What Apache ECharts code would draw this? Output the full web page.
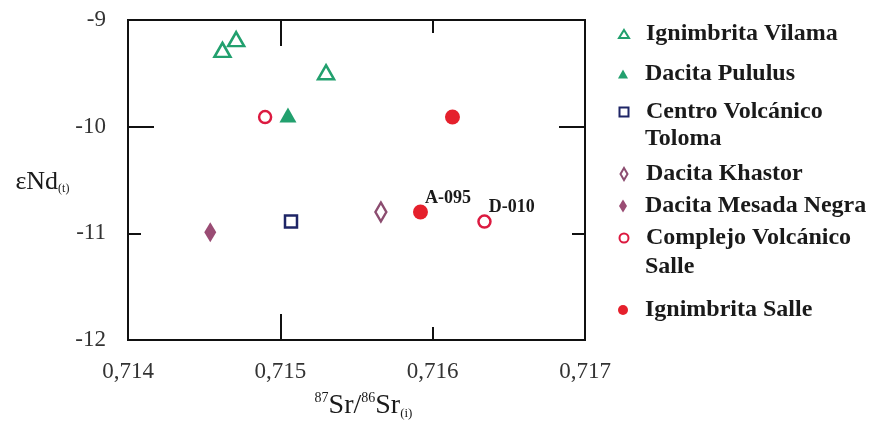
<!DOCTYPE html>
<html>
<head>
<meta charset="utf-8">
<script src="https://cdn.jsdelivr.net/npm/echarts@6/dist/echarts.min.js"></script>
<style>
  html, body { margin: 0; padding: 0; background: #fff; }
  #chart { width: 871px; height: 426px; }
</style>
</head>
<body>
<div id="chart"></div>
<script>
// 87Sr/86Sr(i) vs εNd(t) by volcanic unit
const seriesNames = [
  'Ignimbrita Vilama',
  'Dacita Pululus',
  'Centro Volcánico Toloma',
  'Dacita Khastor',
  'Dacita Mesada Negra',
  'Complejo Volcánico Salle',
  'Ignimbrita Salle'
];

const vilamaSr = [0.71462, 0.71471, 0.71530];
const vilamaNd = [-9.28, -9.18, -9.49];
const pululusSr = [0.71505];
const pululusNd = [-9.89];
const tolomaSr = [0.71507];
const tolomaNd = [-10.89];
const khastorSr = [0.71566];
const khastorNd = [-10.80];
const mesadaSr = [0.71454];
const mesadaNd = [-10.99];
const complejoSr = [0.71490, 0.71634];
const complejoNd = [-9.91, -10.89];
const ignSalleSr = [0.71613, 0.71592];
const ignSalleNd = [-9.91, -10.80];

// sample names written next to individual points
const complejoSamples = [null, 'D-010'];
const ignSalleSamples = [null, 'A-095'];

const xTicks = [0.714, 0.715, 0.716, 0.717];
const yTicks = [-12, -11, -10, -9];

// legend text, one entry per printed line
const legendLines = {
  'Ignimbrita Vilama': ['Ignimbrita Vilama'],
  'Dacita Pululus': ['Dacita Pululus'],
  'Centro Volcánico Toloma': ['Centro Volcánico', 'Toloma'],
  'Dacita Khastor': ['Dacita Khastor'],
  'Dacita Mesada Negra': ['Dacita Mesada Negra'],
  'Complejo Volcánico Salle': ['Complejo Volcánico', 'Salle'],
  'Ignimbrita Salle': ['Ignimbrita Salle']
};

const SERIF = '"Liberation Serif", "DejaVu Serif", serif';

function pairs(xs, ys, samples) {
  return xs.map((x, i) => {
    const item = { value: [x, ys[i]] };
    if (samples && samples[i]) {
      item.label = {
        show: true,
        formatter: samples[i],
        position: 'right',
        distance: 0,
        offset: [-3, -14],
        fontFamily: SERIF,
        fontWeight: 'bold',
        fontSize: 18,
        color: '#1a1a1a'
      };
    }
    return item;
  });
}

const styles = {
  'Ignimbrita Vilama':       { symbol: 'triangle', size: [16, 14], icon: [10, 8],  hollow: true,  color: '#22a06e' },
  'Dacita Pululus':          { symbol: 'triangle', size: [17, 15], icon: [10, 9],  hollow: false, color: '#22a06e' },
  'Centro Volcánico Toloma': { symbol: 'rect',     size: 12,       icon: [9, 9],   hollow: true,  color: '#1e2566' },
  'Dacita Khastor':          { symbol: 'diamond',  size: [11, 19], icon: [7, 12],  hollow: true,  color: '#8c4d70' },
  'Dacita Mesada Negra':     { symbol: 'diamond',  size: [12, 20], icon: [8, 13],  hollow: false, color: '#9a4c74' },
  'Complejo Volcánico Salle':{ symbol: 'circle',   size: 12,       icon: [9, 9],   hollow: true,  color: '#dc1a40' },
  'Ignimbrita Salle':        { symbol: 'circle',   size: 15,       icon: [10, 10], hollow: false, color: '#e5202c' }
};

const seriesData = {
  'Ignimbrita Vilama': pairs(vilamaSr, vilamaNd),
  'Dacita Pululus': pairs(pululusSr, pululusNd),
  'Centro Volcánico Toloma': pairs(tolomaSr, tolomaNd),
  'Dacita Khastor': pairs(khastorSr, khastorNd),
  'Dacita Mesada Negra': pairs(mesadaSr, mesadaNd),
  'Complejo Volcánico Salle': pairs(complejoSr, complejoNd, complejoSamples),
  'Ignimbrita Salle': pairs(ignSalleSr, ignSalleNd, ignSalleSamples)
};

// vertical centre of each legend line (first line carries the marker)
const legendLineCenters = {
  'Ignimbrita Vilama': [34],
  'Dacita Pululus': [74],
  'Centro Volcánico Toloma': [112, 139],
  'Dacita Khastor': [174],
  'Dacita Mesada Negra': [206],
  'Complejo Volcánico Salle': [238, 267],
  'Ignimbrita Salle': [310]
};
const LEGEND_LH = 28;
const ICON_CX = 623;
const TEXT_X = 645;

const series = seriesNames.map(name => {
  const s = styles[name];
  return {
    name,
    type: 'scatter',
    xAxisIndex: 0,
    yAxisIndex: 0,
    symbol: s.symbol,
    symbolSize: s.size,
    itemStyle: s.hollow
      ? { color: '#ffffff', borderColor: s.color, borderWidth: 2.5, opacity: 1 }
      : { color: s.color, borderWidth: 0, opacity: 1 },
    emphasis: { disabled: true },
    data: seriesData[name]
  };
});

const legends = [];
seriesNames.forEach(name => {
  const s = styles[name];
  const lines = legendLines[name];
  lines.forEach((line, li) => {
    const w = s.icon[0];
    const h = s.icon[1];
    legends.push({
      data: li === 0 ? [name] : [{ name, icon: 'none' }],
      left: ICON_CX - w / 2,
      top: legendLineCenters[name][li] - LEGEND_LH / 2,
      padding: 0,
      itemWidth: w,
      itemHeight: h,
      itemStyle: s.hollow ? { borderWidth: 2 } : {},
      selectedMode: false,
      formatter: () => line,
      textStyle: {
        fontFamily: SERIF,
        fontWeight: 'bold',
        fontSize: 24,
        color: '#1a1a1a',
        lineHeight: LEGEND_LH,
        padding: [0, 0, 0, TEXT_X - (ICON_CX + w / 2 + 5)]
      }
    });
  });
});

const lineStyle = { color: '#111', width: 2 };

function xAxis(position, tickValues, tickLen, withLabels) {
  return {
    type: 'value',
    position,
    min: xTicks[0],
    max: xTicks[xTicks.length - 1],
    interval: 0.001,
    axisLine: { show: true, onZero: false, lineStyle },
    axisTick: { show: true, inside: true, length: tickLen, lineStyle, customValues: tickValues },
    axisLabel: withLabels ? {
      show: true,
      customValues: xTicks,
      margin: 20,
      fontFamily: SERIF,
      fontSize: 23,
      color: '#333',
      formatter: v => v.toFixed(3).replace('.', ',')
    } : { show: false },
    splitLine: { show: false }
  };
}

function yAxis(position, tickValues, tickLen, withLabels) {
  return {
    type: 'value',
    position,
    min: yTicks[0],
    max: yTicks[yTicks.length - 1],
    interval: 1,
    axisLine: { show: true, onZero: false, lineStyle },
    axisTick: { show: true, inside: true, length: tickLen, lineStyle, customValues: tickValues },
    axisLabel: withLabels ? {
      show: true,
      margin: 22,
      fontFamily: SERIF,
      fontSize: 23,
      color: '#333'
    } : { show: false },
    splitLine: { show: false }
  };
}

const xMain = xAxis('bottom', [0.716], 13, true);
xMain.name = '{sup|87}{m|Sr/}{sup|86}{m|Sr}{sub|(i)}';
xMain.nameLocation = 'middle';
xMain.nameGap = 44;
xMain.nameTextStyle = {
  color: '#1a1a1a',
  padding: [0, 0, 0, 14],
  rich: {
    m: { fontFamily: SERIF, fontSize: 28, lineHeight: 32, verticalAlign: 'bottom' },
    sup: { fontFamily: SERIF, fontSize: 14, lineHeight: 32, verticalAlign: 'top', padding: [3, 0, 0, 0] },
    sub: { fontFamily: SERIF, fontSize: 13, lineHeight: 32, verticalAlign: 'bottom' }
  }
};

const yMain = yAxis('left', [-11], 13, true);
yMain.name = '{m|εNd}{sub|(t)}';
yMain.nameLocation = 'middle';
yMain.nameRotate = 0;
yMain.nameGap = 56;
yMain.nameTextStyle = {
  color: '#1a1a1a',
  align: 'right',
  rich: {
    m: { fontFamily: SERIF, fontSize: 26, lineHeight: 30, verticalAlign: 'bottom' },
    sub: { fontFamily: SERIF, fontSize: 12, lineHeight: 30, verticalAlign: 'bottom' }
  }
};

const option = {
  animation: false,
  backgroundColor: '#ffffff',
  grid: { left: 128, right: 286, top: 20, bottom: 86, containLabel: false },
  xAxis: [
    xMain,
    xAxis('top', [0.716], 13, false),
    xAxis('bottom', [0.715], 26, false),
    xAxis('top', [0.715], 26, false)
  ],
  yAxis: [
    yMain,
    yAxis('right', [-11], 13, false),
    yAxis('left', [-10], 26, false),
    yAxis('right', [-10], 26, false)
  ],
  legend: legends,
  series
};

const chart = echarts.init(document.getElementById('chart'), null, { renderer: 'canvas' });
chart.setOption(option);
</script>
</body>
</html>
